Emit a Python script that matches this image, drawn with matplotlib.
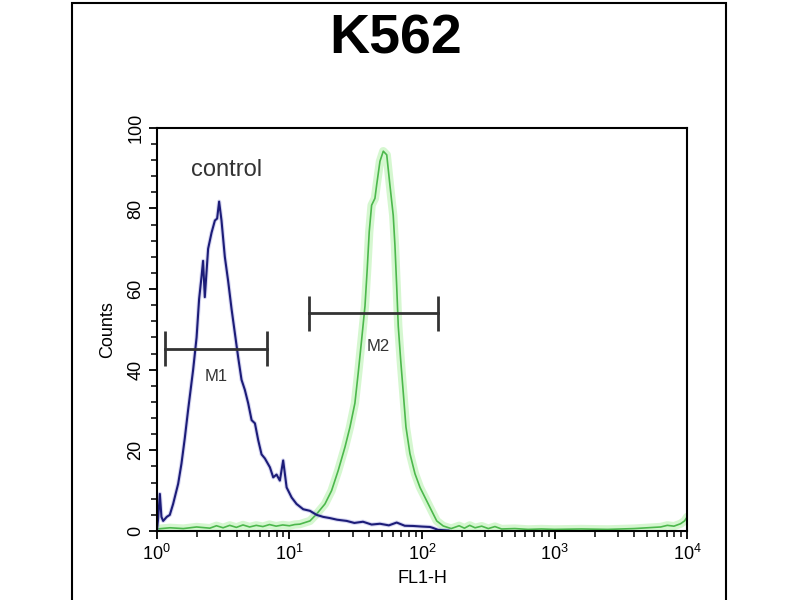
import numpy as np
import matplotlib
matplotlib.use('Agg')
import matplotlib.pyplot as plt
from matplotlib.patches import Rectangle
from matplotlib.ticker import LogLocator, MultipleLocator, NullFormatter

plt.rcParams['font.family'] = ['Liberation Sans', 'DejaVu Sans']
plt.rcParams['mathtext.default'] = 'regular'

# histogram traces (x as log10 of FL1-H)
control_log = [0.000, 0.010, 0.023, 0.035, 0.048, 0.075, 0.098, 0.123, 0.161, 0.186,
               0.211, 0.236, 0.274, 0.300, 0.319, 0.337, 0.349, 0.362, 0.387, 0.413,
               0.438, 0.455, 0.470, 0.488, 0.513, 0.538, 0.564, 0.589, 0.614, 0.639,
               0.664, 0.689, 0.715, 0.740, 0.765, 0.790, 0.815, 0.853, 0.878, 0.903,
               0.928, 0.953, 0.979, 1.017, 1.054, 1.104, 1.155, 1.205, 1.255, 1.306,
               1.360, 1.432, 1.490, 1.555, 1.620, 1.683, 1.750, 1.809, 1.870, 1.932,
               2.000, 2.060, 2.080, 2.120, 2.200]
control_counts = [0, 3, 9.2, 3.5, 2.5, 3.5, 4, 6.7, 11.7, 16.7,
                  23, 30, 40, 48, 57.5, 63, 67, 58, 70, 74,
                  77, 77.5, 81.7, 77, 68, 62, 55, 49, 43, 37.5,
                  35, 31.7, 27.5, 26.7, 22.5, 19, 18, 15.8, 13.3, 14,
                  12.5, 17.5, 10.8, 8.3, 6.7, 5.4, 5, 4, 3.5, 3.2,
                  2.8, 2.5, 2.0, 2.3, 1.6, 1.8, 1.4, 2.1, 1.3, 1.25,
                  1.1, 1.0, 0.8, 0.3, 0.1]

k562_log = [0.00, 0.10, 0.20, 0.30, 0.40, 0.45, 0.50, 0.55, 0.60, 0.65,
            0.70, 0.75, 0.80, 0.85, 0.90, 0.95, 1.00, 1.04, 1.079, 1.155,
            1.205, 1.268, 1.318, 1.368, 1.419, 1.457, 1.494, 1.519, 1.545, 1.570,
            1.587, 1.602, 1.620, 1.645, 1.658, 1.683, 1.708, 1.734, 1.758, 1.783,
            1.796, 1.809, 1.821, 1.839, 1.859, 1.879, 1.909, 1.947, 1.985, 2.035,
            2.085, 2.111, 2.160, 2.22, 2.28, 2.32, 2.36, 2.40, 2.45, 2.50,
            2.55, 2.60, 2.70, 2.80, 2.90, 3.00, 3.20, 3.40, 3.60, 3.70,
            3.80, 3.85, 3.90, 3.95, 3.98, 4.00]
k562_counts = [0.5, 0.8, 0.6, 1.0, 0.7, 1.3, 0.8, 1.4, 0.9, 1.5,
               1.0, 1.4, 1.1, 1.6, 1.2, 1.5, 1.3, 1.6, 1.7, 2.5,
               4.2, 6.7, 10, 15, 20.8, 25.8, 31.7, 39.2, 47.5, 55.8,
               65, 74.2, 80.8, 82.5, 85.8, 91.7, 94.2, 93.3, 85.8, 78.3,
               70.8, 60.8, 50.8, 42.5, 34.2, 25.8, 19.2, 14.2, 10.8, 7.5,
               4.2, 2.5, 1.25, 0.6, 1.3, 0.7, 1.4, 0.8, 1.2, 0.6,
               1.1, 0.5, 0.6, 0.4, 0.5, 0.4, 0.5, 0.4, 0.6, 0.8,
               1.0, 1.4, 1.2, 1.8, 2.5, 3.5]

# marker gates
m1_range = [1.15, 6.8]
m1_level = 45.25
m2_range = [14.0, 132.0]
m2_level = 54.0

fig = plt.figure(figsize=(8, 6), dpi=100)
ax = fig.add_axes([0.196, 0.115, 0.663, 0.672])

x_ctrl = np.power(10.0, control_log)
x_k562 = np.power(10.0, k562_log)

# green trace with its soft glow
ax.plot(x_k562, k562_counts, color='#c4f4bc', lw=6, alpha=0.7, solid_capstyle='round')
ax.plot(x_k562, k562_counts, color='#4cb84c', lw=1.2)
ax.plot(x_ctrl, control_counts, color='#8c8cd8', lw=3, alpha=0.35)
ax.plot(x_ctrl, control_counts, color='#1c1c78', lw=1.5)

# gates
for (lo, hi), lev in [(m1_range, m1_level), (m2_range, m2_level)]:
    ax.plot([lo, hi], [lev, lev], color='#333333', lw=2)
    ax.vlines([lo, hi], lev - 4.4, lev + 4.4, color='#333333', lw=2)
ax.text(2.82, 38.3, 'M1', ha='center', va='center', fontsize=12, color='#333333')
ax.text(46.5, 45.7, 'M2', ha='center', va='center', fontsize=12, color='#333333')
ax.text(3.36, 89.6, 'control', ha='center', va='center', fontsize=17, color='#333333')

ax.set_xscale('log')
ax.set_xlim(1, 1e4)
ax.set_ylim(0, 100)
ax.xaxis.set_major_locator(LogLocator(base=10, numticks=10))
ax.xaxis.set_minor_locator(LogLocator(base=10, subs=np.arange(2, 10), numticks=10))
ax.xaxis.set_minor_formatter(NullFormatter())
ax.yaxis.set_major_locator(MultipleLocator(20))
ax.yaxis.set_minor_locator(MultipleLocator(4))
ax.tick_params(which='major', direction='out', length=6, width=1.3, labelsize=13)
ax.tick_params(which='minor', direction='out', length=4, width=1.1)
ax.tick_params(axis='y', pad=3)
for lab in ax.get_yticklabels():
    lab.set_rotation(90)
    lab.set_va('center')
for sp in ax.spines.values():
    sp.set_linewidth(1.5)

ax.set_xlabel('FL1-H', fontsize=13, labelpad=4)
ax.set_ylabel('Counts', fontsize=13, labelpad=8)

fig.text(0.494, 0.935, 'K562', ha='center', va='center', fontsize=40, fontweight='bold')

# outer frame around the panel
fig.patches.append(Rectangle((0.09, -0.01), 0.817, 1.005, transform=fig.transFigure,
                             fill=False, edgecolor='black', lw=1.5))

plt.savefig('out.png', dpi=100)
